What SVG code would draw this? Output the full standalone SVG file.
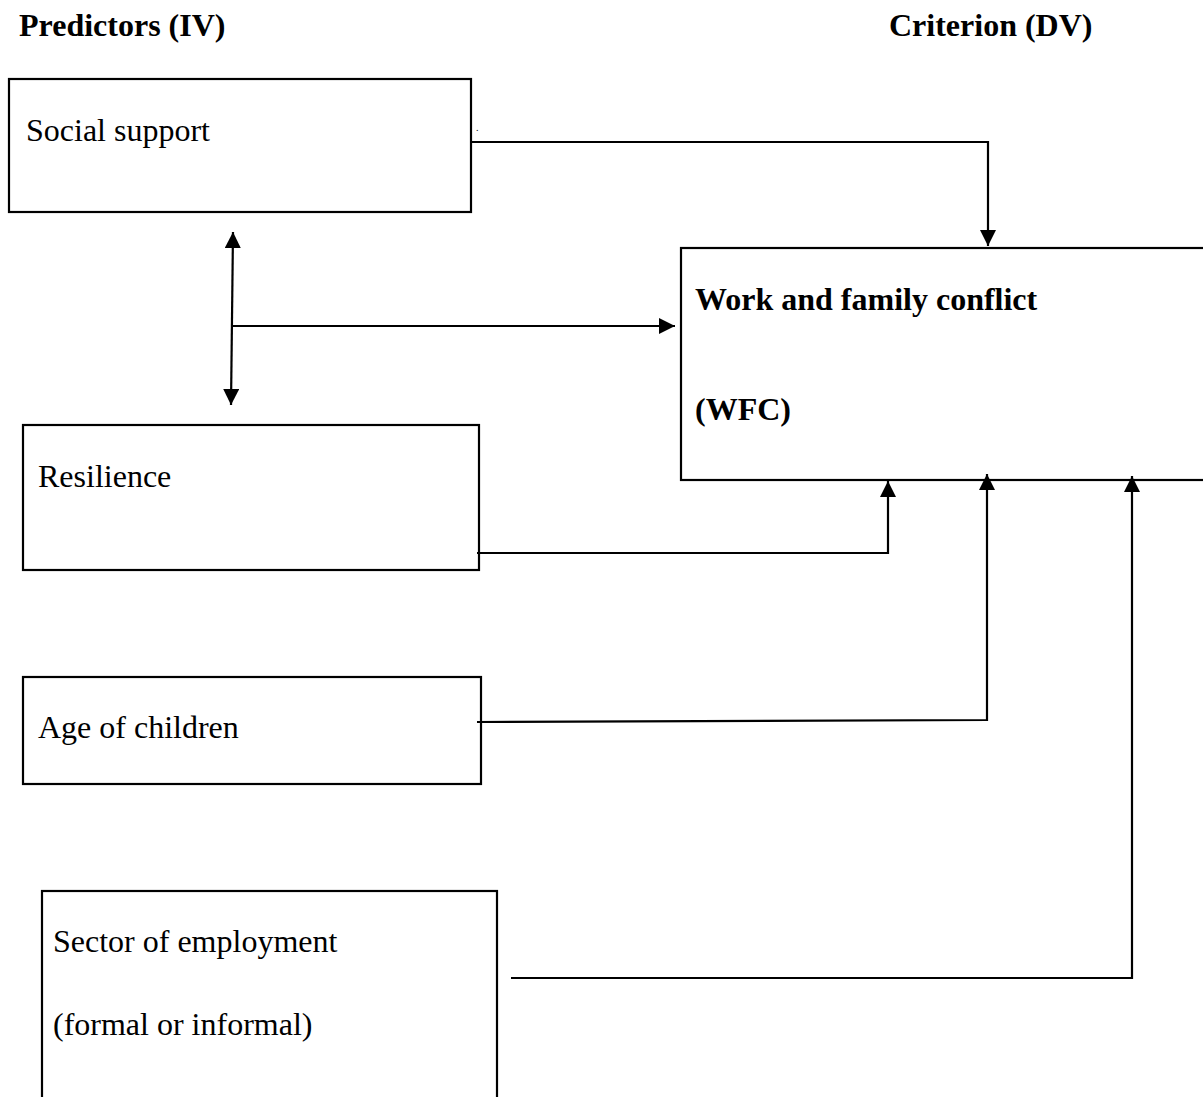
<svg xmlns="http://www.w3.org/2000/svg" width="1203" height="1097" viewBox="0 0 1203 1097">
<style>
.box{fill:none;stroke:#000;stroke-width:2.2}
.lbl{font-family:"Liberation Serif","Times New Roman",serif;font-size:32px;fill:#000}
.b{font-weight:bold}
.con{fill:none;stroke:#000;stroke-width:2.2}
</style>
<defs>
<marker id="ah" markerUnits="userSpaceOnUse" markerWidth="16" markerHeight="16" viewBox="0 0 16 16" refX="16" refY="8" orient="auto-start-reverse">
<path d="M0,0 L16,8 L0,16 Z" fill="#000"/>
</marker>
</defs>
<rect width="1203" height="1097" fill="#fff"/>
<text class="lbl b" x="19" y="36">Predictors (IV)</text>
<text class="lbl b" x="889" y="36">Criterion (DV)</text>
<g id="social-support">
<rect class="box" x="9" y="79" width="462" height="133"/>
<text class="lbl" x="26" y="141">Social support</text>
</g>
<text x="476" y="131" style="font-family:'Liberation Serif',serif;font-size:10px">.</text>
<g id="wfc">
<rect class="box" x="681" y="248" width="540" height="232"/>
<text class="lbl b" x="695" y="310">Work and family conflict</text>
<text class="lbl b" x="695" y="420">(WFC)</text>
</g>
<g id="resilience">
<rect class="box" x="23" y="425" width="456" height="145"/>
<text class="lbl" x="38" y="487">Resilience</text>
</g>
<g id="age-of-children">
<rect class="box" x="23" y="677" width="458" height="107"/>
<text class="lbl" x="38" y="738">Age of children</text>
</g>
<g id="sector">
<rect class="box" x="42" y="891" width="455" height="230"/>
<text class="lbl" x="53" y="952">Sector of employment</text>
<text class="lbl" x="53" y="1035">(formal or informal)</text>
</g>
<g id="connectors">
<path class="con" d="M470,142 H988 V246" marker-end="url(#ah)"/>
<path class="con" d="M233,232 L231,405" marker-start="url(#ah)" marker-end="url(#ah)"/>
<path class="con" d="M231,326 H675" marker-end="url(#ah)"/>
<path class="con" d="M477,553 H888 V481" marker-end="url(#ah)"/>
<path class="con" d="M477,722 L987,720 V474" marker-end="url(#ah)"/>
<path class="con" d="M511,978 H1132 V476" marker-end="url(#ah)"/>
</g>
</svg>
